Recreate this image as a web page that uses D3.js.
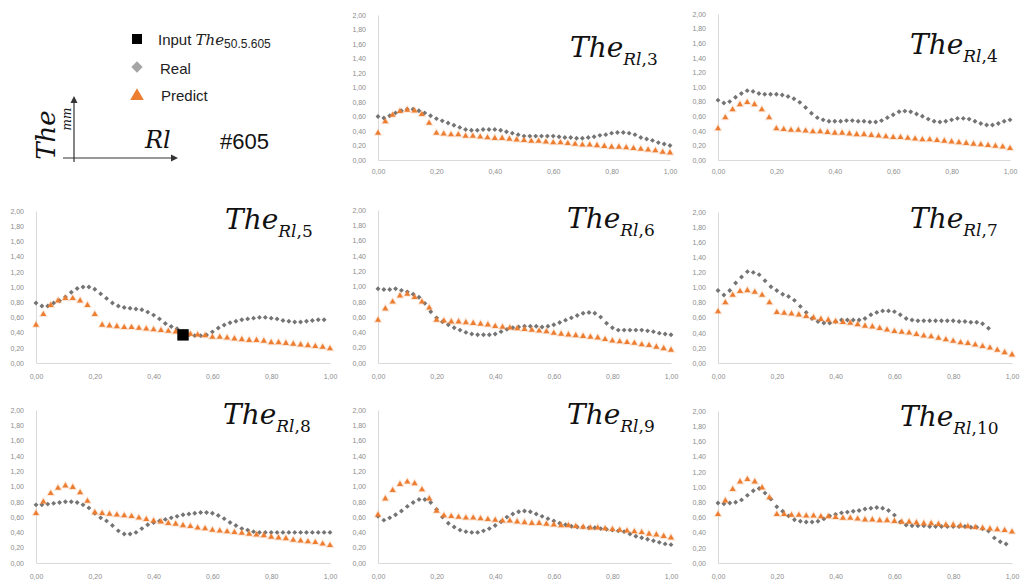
<!DOCTYPE html>
<html>
<head>
<meta charset="utf-8">
<script src="https://cdn.jsdelivr.net/npm/d3@7"></script>
<style>
  body { margin: 0; background: #fff; }
  svg { display: block; }
</style>
</head>
<body>
<svg id="chart" width="1020" height="581"></svg>
<script>
// Rl positions of the measured (Real) points
const realGrid = [0, 0.02, 0.04, 0.06, 0.08, 0.1, 0.12, 0.14, 0.16, 0.18,
    0.2, 0.22, 0.24, 0.26, 0.28, 0.3, 0.32, 0.34, 0.36, 0.38,
    0.4, 0.42, 0.44, 0.46, 0.48, 0.5, 0.52, 0.54, 0.56, 0.58,
    0.6, 0.62, 0.64, 0.66, 0.68, 0.7, 0.72, 0.74, 0.76, 0.78,
    0.8, 0.82, 0.84, 0.86, 0.88, 0.9, 0.92, 0.94, 0.96, 0.98, 1]
// Rl positions of the predicted points
const predGrid = [0, 0.025, 0.05, 0.075, 0.1, 0.125, 0.15, 0.175, 0.2, 0.225,
    0.25, 0.275, 0.3, 0.325, 0.35, 0.375, 0.4, 0.425, 0.45, 0.475,
    0.5, 0.525, 0.55, 0.575, 0.6, 0.625, 0.65, 0.675, 0.7, 0.725,
    0.75, 0.775, 0.8, 0.825, 0.85, 0.875, 0.9, 0.925, 0.95, 0.975, 1]

const xTicks = [0, 0.2, 0.4, 0.6, 0.8, 1]
const yTicks = [0, 0.2, 0.4, 0.6, 0.8, 1, 1.2, 1.4, 1.6, 1.8, 2]

// Input The 50.5.605 (shown on the Rl,5 panel)
const inputPoint = [0.5, 0.37]

const realRl3 = [0.60, 0.58, 0.61, 0.65, 0.68, 0.70, 0.70, 0.68, 0.65, 0.61,
    0.57, 0.54, 0.51, 0.48, 0.45, 0.42, 0.41, 0.41, 0.42, 0.42,
    0.42, 0.41, 0.39, 0.37, 0.35, 0.33, 0.33, 0.33, 0.33, 0.33,
    0.33, 0.32, 0.31, 0.31, 0.30, 0.30, 0.31, 0.32, 0.34, 0.35,
    0.37, 0.38, 0.38, 0.37, 0.35, 0.31, 0.29, 0.27, 0.24, 0.22, 0.20]
const predRl3 = [0.37, 0.53, 0.62, 0.67, 0.69, 0.68, 0.63, 0.51, 0.37, 0.36,
    0.35, 0.35, 0.33, 0.33, 0.32, 0.31, 0.30, 0.30, 0.29, 0.28,
    0.27, 0.26, 0.26, 0.25, 0.24, 0.24, 0.23, 0.22, 0.21, 0.21,
    0.20, 0.19, 0.18, 0.18, 0.17, 0.16, 0.15, 0.14, 0.13, 0.11, 0.10]

const realRl4 = [0.82, 0.78, 0.80, 0.86, 0.91, 0.95, 0.94, 0.91, 0.90, 0.90,
    0.90, 0.89, 0.87, 0.84, 0.79, 0.72, 0.64, 0.58, 0.55, 0.53,
    0.53, 0.53, 0.54, 0.54, 0.53, 0.53, 0.52, 0.52, 0.54, 0.58,
    0.62, 0.66, 0.67, 0.66, 0.63, 0.60, 0.56, 0.53, 0.52, 0.53,
    0.55, 0.57, 0.57, 0.56, 0.53, 0.50, 0.48, 0.48, 0.50, 0.53, 0.55]
const predRl4 = [0.43, 0.58, 0.69, 0.76, 0.79, 0.76, 0.69, 0.58, 0.43, 0.42,
    0.41, 0.41, 0.40, 0.39, 0.39, 0.38, 0.37, 0.37, 0.36, 0.35,
    0.35, 0.34, 0.33, 0.32, 0.31, 0.31, 0.30, 0.29, 0.28, 0.28,
    0.27, 0.26, 0.25, 0.24, 0.23, 0.22, 0.21, 0.20, 0.19, 0.18, 0.16]

const realRl5 = [0.79, 0.75, 0.75, 0.79, 0.82, 0.87, 0.93, 0.98, 1.00, 1.00,
    0.97, 0.91, 0.85, 0.79, 0.75, 0.73, 0.72, 0.71, 0.70, 0.67,
    0.63, 0.58, 0.52, 0.48, 0.45, 0.41, 0.37, 0.36, 0.36, 0.37,
    0.41, 0.46, 0.50, 0.53, 0.55, 0.57, 0.58, 0.59, 0.60, 0.60,
    0.59, 0.58, 0.56, 0.55, 0.54, 0.54, 0.55, 0.56, 0.57, 0.57]
const predRl5 = [0.50, 0.64, 0.76, 0.82, 0.85, 0.85, 0.82, 0.76, 0.64, 0.50,
    0.49, 0.48, 0.47, 0.47, 0.46, 0.45, 0.44, 0.43, 0.42, 0.41,
    0.39, 0.38, 0.37, 0.36, 0.34, 0.34, 0.33, 0.32, 0.31, 0.30,
    0.30, 0.29, 0.27, 0.27, 0.26, 0.25, 0.24, 0.23, 0.22, 0.21, 0.19]

const realRl6 = [0.97, 0.96, 0.96, 0.97, 0.95, 0.93, 0.90, 0.86, 0.78, 0.67,
    0.59, 0.54, 0.50, 0.46, 0.43, 0.40, 0.38, 0.37, 0.37, 0.37,
    0.38, 0.41, 0.44, 0.46, 0.47, 0.48, 0.48, 0.48, 0.47, 0.48,
    0.50, 0.53, 0.56, 0.59, 0.62, 0.65, 0.66, 0.65, 0.60, 0.52,
    0.46, 0.43, 0.43, 0.43, 0.43, 0.43, 0.42, 0.41, 0.39, 0.38, 0.37]
const predRl6 = [0.56, 0.71, 0.80, 0.88, 0.90, 0.86, 0.80, 0.72, 0.56, 0.55,
    0.54, 0.54, 0.53, 0.52, 0.51, 0.50, 0.48, 0.47, 0.46, 0.45,
    0.44, 0.43, 0.42, 0.41, 0.39, 0.38, 0.37, 0.36, 0.35, 0.34,
    0.33, 0.31, 0.29, 0.28, 0.27, 0.26, 0.24, 0.23, 0.21, 0.19, 0.17]

// real curve stops at Rl = 0.92 on this panel
const realRl7 = [0.96, 0.90, 0.96, 1.06, 1.14, 1.21, 1.20, 1.17, 1.09, 1.01,
    0.96, 0.91, 0.88, 0.83, 0.75, 0.67, 0.59, 0.55, 0.53, 0.53,
    0.55, 0.57, 0.57, 0.57, 0.57, 0.59, 0.64, 0.67, 0.69, 0.69,
    0.68, 0.64, 0.59, 0.57, 0.56, 0.56, 0.56, 0.56, 0.56, 0.56,
    0.56, 0.55, 0.55, 0.54, 0.54, 0.52, 0.46]
const predRl7 = [0.68, 0.80, 0.90, 0.95, 0.96, 0.94, 0.90, 0.80, 0.67, 0.66,
    0.65, 0.64, 0.62, 0.60, 0.58, 0.57, 0.55, 0.54, 0.53, 0.51,
    0.49, 0.48, 0.46, 0.44, 0.42, 0.41, 0.40, 0.38, 0.36, 0.35,
    0.33, 0.31, 0.29, 0.27, 0.26, 0.24, 0.22, 0.20, 0.17, 0.14, 0.11]

const realRl8 = [0.76, 0.76, 0.77, 0.78, 0.79, 0.80, 0.80, 0.79, 0.76, 0.72,
    0.65, 0.59, 0.55, 0.49, 0.42, 0.38, 0.38, 0.40, 0.45, 0.50,
    0.53, 0.55, 0.57, 0.59, 0.61, 0.63, 0.64, 0.65, 0.66, 0.66,
    0.65, 0.62, 0.58, 0.53, 0.49, 0.45, 0.43, 0.41, 0.40, 0.40,
    0.40, 0.40, 0.40, 0.40, 0.40, 0.40, 0.40, 0.40, 0.40, 0.40, 0.40]
const predRl8 = [0.65, 0.80, 0.91, 0.98, 1.01, 0.99, 0.92, 0.81, 0.66, 0.65,
    0.64, 0.63, 0.62, 0.61, 0.59, 0.57, 0.55, 0.54, 0.52, 0.51,
    0.49, 0.48, 0.46, 0.45, 0.43, 0.42, 0.41, 0.40, 0.39, 0.38,
    0.37, 0.36, 0.34, 0.33, 0.32, 0.30, 0.29, 0.28, 0.27, 0.25, 0.23]

const realRl9 = [0.61, 0.56, 0.59, 0.63, 0.68, 0.74, 0.79, 0.83, 0.83, 0.79,
    0.70, 0.60, 0.52, 0.47, 0.43, 0.41, 0.40, 0.40, 0.42, 0.45,
    0.49, 0.54, 0.60, 0.64, 0.67, 0.68, 0.67, 0.64, 0.61, 0.58,
    0.55, 0.52, 0.50, 0.48, 0.47, 0.47, 0.46, 0.46, 0.45, 0.44,
    0.43, 0.42, 0.41, 0.38, 0.35, 0.33, 0.31, 0.29, 0.27, 0.25, 0.24]
const predRl9 = [0.63, 0.84, 0.95, 1.03, 1.06, 1.04, 0.96, 0.84, 0.68, 0.62,
    0.61, 0.60, 0.59, 0.59, 0.58, 0.57, 0.56, 0.55, 0.55, 0.54,
    0.53, 0.52, 0.52, 0.51, 0.50, 0.49, 0.49, 0.48, 0.47, 0.46,
    0.46, 0.45, 0.44, 0.43, 0.42, 0.41, 0.40, 0.38, 0.37, 0.35, 0.33]

const realRl10 = [0.79, 0.78, 0.79, 0.80, 0.83, 0.89, 0.95, 0.98, 0.92, 0.84,
    0.74, 0.68, 0.62, 0.57, 0.55, 0.54, 0.54, 0.55, 0.58, 0.62,
    0.64, 0.66, 0.67, 0.68, 0.69, 0.71, 0.72, 0.73, 0.72, 0.69,
    0.63, 0.54, 0.50, 0.49, 0.49, 0.49, 0.48, 0.48, 0.48, 0.48,
    0.48, 0.48, 0.48, 0.47, 0.47, 0.45, 0.42, 0.33, 0.28, 0.25]
const predRl10 = [0.64, 0.82, 0.97, 1.07, 1.10, 1.07, 0.99, 0.86, 0.64, 0.64,
    0.63, 0.63, 0.62, 0.62, 0.61, 0.61, 0.60, 0.59, 0.59, 0.58,
    0.57, 0.57, 0.56, 0.56, 0.55, 0.54, 0.54, 0.53, 0.52, 0.52,
    0.51, 0.50, 0.50, 0.49, 0.48, 0.47, 0.46, 0.45, 0.44, 0.43, 0.41]

const panels = [
    { sub: '3', real: realRl3, pred: predRl3 },
    { sub: '4', real: realRl4, pred: predRl4 },
    { sub: '5', real: realRl5, pred: predRl5, input: true },
    { sub: '6', real: realRl6, pred: predRl6 },
    { sub: '7', real: realRl7, pred: predRl7 },
    { sub: '8', real: realRl8, pred: predRl8 },
    { sub: '9', real: realRl9, pred: predRl9 },
    { sub: '10', real: realRl10, pred: predRl10 }
]

// where each small chart sits on the page
const boxes = [
    { x0: 378, x1: 670, top: 15, bot: 160, tx: 570, ty: 57, gap: 9 },
    { x0: 718, x1: 1010, top: 14, bot: 160, tx: 910, ty: 54, gap: 9 },
    { x0: 36, x1: 330, top: 211, bot: 363, tx: 225, ty: 229, gap: 11 },
    { x0: 378, x1: 671, top: 210, bot: 363, tx: 567, ty: 228, gap: 11 },
    { x0: 718, x1: 1012, top: 212, bot: 363, tx: 910, ty: 228, gap: 11 },
    { x0: 36, x1: 330, top: 410, bot: 563, tx: 223, ty: 424, gap: 11 },
    { x0: 378, x1: 671, top: 410, bot: 563, tx: 567, ty: 424, gap: 11 },
    { x0: 718, x1: 1012, top: 411, bot: 563, tx: 900, ty: 426, gap: 11 }
]

const grey = '#747474'
const orange = '#ed7d31'
const serif = 'DejaVu Serif'
const sans = 'Liberation Sans'

const svg = d3.select('#chart')
const fmt = d => d3.format('.2f')(d).replace('.', ',')

function drawPanel(p, b) {
    let x = d3.scaleLinear().domain([0, 1]).range([b.x0, b.x1])
    let y = d3.scaleLinear().domain([0, 2]).range([b.bot, b.top])
    let g = svg.append('g')

    let xAxis = g.append('g')
        .attr('transform', 'translate(0,' + b.bot + ')')
        .call(d3.axisBottom(x).tickValues(xTicks).tickSize(0).tickPadding(b.gap).tickFormat(fmt))
    let yAxis = g.append('g')
        .attr('transform', 'translate(' + b.x0 + ',0)')
        .call(d3.axisLeft(y).tickValues(yTicks).tickSize(0).tickPadding(12).tickFormat(fmt))
    ;[xAxis, yAxis].forEach(a => {
        a.select('.domain').attr('stroke', '#d9d9d9')
        a.selectAll('text').attr('fill', '#8c8c8c').style('font-size', '7px').style('font-family', sans)
    })

    // Real
    g.append('g').selectAll('path')
        .data(p.real)
        .enter().append('path')
        .attr('transform', (d, i) => 'translate(' + x(realGrid[i]) + ',' + y(d) + ') rotate(45)')
        .attr('d', d3.symbol(d3.symbolSquare, 12))
        .attr('fill', grey)

    // Predict
    g.append('g').selectAll('path')
        .data(p.pred)
        .enter().append('path')
        .attr('transform', (d, i) => 'translate(' + x(predGrid[i]) + ',' + y(d) + ')')
        .attr('d', d3.symbol(d3.symbolTriangle, 15))
        .attr('fill', orange)
        .attr('stroke', 'rgba(237,125,49,0.18)')
        .attr('stroke-width', 2)

    if (p.input) {
        g.append('path')
            .attr('transform', 'translate(' + x(inputPoint[0]) + ',' + y(inputPoint[1]) + ')')
            .attr('d', d3.symbol(d3.symbolSquare, 130))
            .attr('fill', '#000')
    }

    //Title The_{Rl,n}
    let t = g.append('text')
        .attr('x', b.tx).attr('y', b.ty)
        .attr('font-family', serif).attr('font-size', 28).attr('fill', '#111')
    t.append('tspan').attr('font-style', 'italic').text('The')
    t.append('tspan').attr('font-style', 'italic').attr('font-size', 17).attr('dy', 8).text('Rl')
    t.append('tspan').attr('font-size', 17).text(',' + p.sub)
}

panels.forEach((p, i) => drawPanel(p, boxes[i]))

// Legend
let lg = svg.append('g')
lg.append('path').attr('transform', 'translate(137,39)').attr('d', d3.symbol(d3.symbolSquare, 100)).attr('fill', '#000')
lg.append('path').attr('transform', 'translate(137,67) rotate(45)').attr('d', d3.symbol(d3.symbolSquare, 64)).attr('fill', '#a5a5a5')
lg.append('path').attr('transform', 'translate(137,96)').attr('d', d3.symbol(d3.symbolTriangle, 80)).attr('fill', orange)

let l1 = lg.append('text').attr('x', 158).attr('y', 45).attr('font-family', sans).attr('font-size', 15).attr('fill', '#222')
l1.append('tspan').text('Input ')
l1.append('tspan').attr('font-family', serif).attr('font-style', 'italic').text('The')
l1.append('tspan').attr('font-size', 12).attr('dy', 3).text('50.5.605')
lg.append('text').attr('x', 160).attr('y', 74).attr('font-family', sans).attr('font-size', 15).attr('fill', '#222').text('Real')
lg.append('text').attr('x', 161).attr('y', 101).attr('font-family', sans).attr('font-size', 15).attr('fill', '#222').text('Predict')

// Axis sketch: The(mm) vs Rl
let ax = svg.append('g').attr('stroke', '#333').attr('stroke-width', 1.2)
ax.append('line').attr('x1', 74).attr('y1', 162).attr('x2', 74).attr('y2', 101)
ax.append('line').attr('x1', 63).attr('y1', 158).attr('x2', 173).attr('y2', 158)
svg.append('path').attr('d', 'M74,96 L70.5,103 L77.5,103 Z').attr('fill', '#333')
svg.append('path').attr('d', 'M178,158 L171,154.5 L171,161.5 Z').attr('fill', '#333')

svg.append('text').attr('transform', 'translate(55,135) rotate(-90)')
    .attr('text-anchor', 'middle').attr('font-family', serif).attr('font-style', 'italic')
    .attr('font-size', 26).attr('fill', '#111').text('The')
svg.append('text').attr('transform', 'translate(71,119) rotate(-90)')
    .attr('text-anchor', 'middle').attr('font-family', serif).attr('font-style', 'italic')
    .attr('font-size', 12).attr('fill', '#111').text('mm')
svg.append('text').attr('x', 145).attr('y', 148)
    .attr('font-family', serif).attr('font-style', 'italic')
    .attr('font-size', 24).attr('fill', '#111').text('Rl')
svg.append('text').attr('x', 220).attr('y', 149)
    .attr('font-family', sans).attr('font-size', 22).attr('fill', '#111').text('#605')
</script>
</body>
</html>
